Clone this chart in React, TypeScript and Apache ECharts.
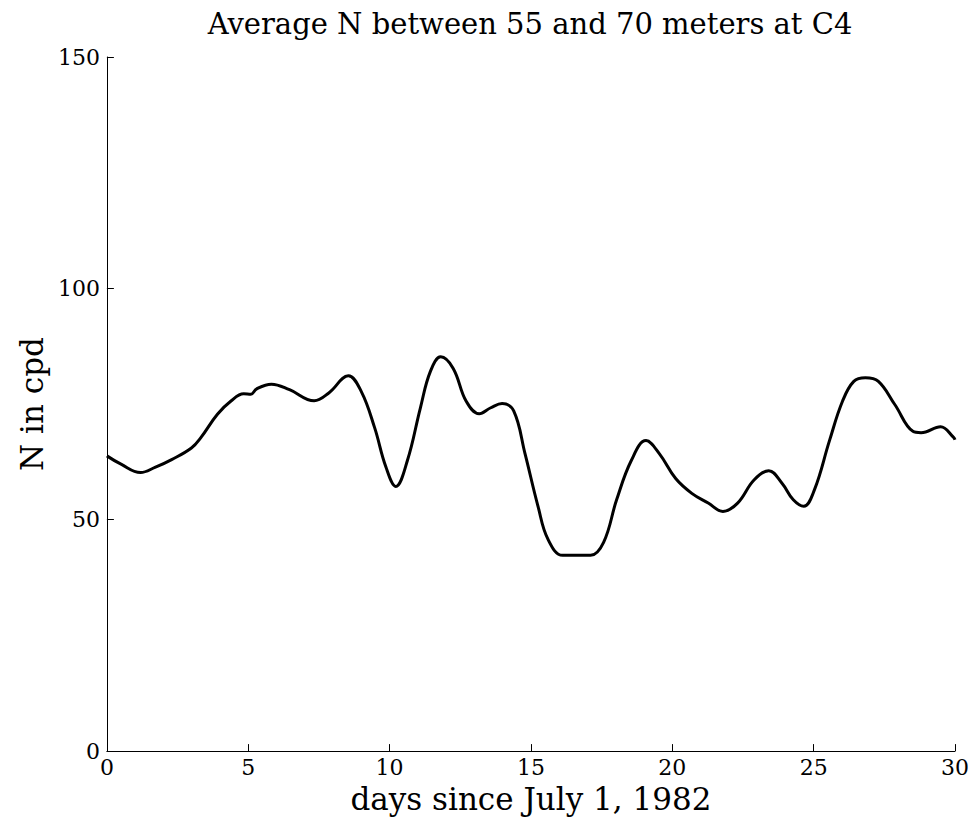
import React, { useEffect, useRef } from "react";
import * as echarts from "echarts";

const days = [0, 0.5, 1.19, 1.7, 2.29, 2.99, 3.33, 3.91, 4.38, 4.84, 5.09, 5.3, 5.82, 6.46, 7.33, 7.85, 8.54, 9.0, 9.47, 9.87, 10.22, 10.63, 11.09, 11.44, 11.81, 12.25, 12.71, 13.17, 13.58, 13.98, 14.39, 14.79, 15.25, 15.6, 16.12, 16.6, 17.11, 17.57, 18.03, 18.55, 19.07, 19.54, 20.12, 20.69, 21.27, 21.79, 22.31, 22.89, 23.41, 23.88, 24.28, 24.65, 25.03, 25.56, 26.02, 26.42, 26.83, 27.29, 27.87, 28.51, 28.8, 29.49, 29.95, 30];
const nValues = [63.8, 62.0, 60.2, 61.3, 63.0, 65.5, 67.8, 72.8, 75.6, 77.2, 77.1, 78.3, 79.3, 78.1, 75.7, 77.4, 81.1, 77.7, 69.9, 61.4, 57.2, 62.8, 74.2, 82.0, 85.2, 82.7, 75.6, 72.9, 74.2, 75.1, 73.5, 64.3, 52.9, 45.8, 42.3, 42.3, 42.3, 45.1, 54.3, 62.8, 67.1, 64.3, 58.9, 55.7, 53.6, 51.8, 53.6, 58.6, 60.6, 57.9, 54.3, 52.9, 56.5, 67.1, 75.6, 79.9, 80.7, 79.9, 74.9, 69.1, 68.8, 70.1, 67.8, 67.3];

const titleText = "Average N between 55 and 70 meters at C4";
const xName = "days since July 1, 1982";
const yName = "N in cpd";

export default function App() {
  const ref = useRef<HTMLDivElement>(null);
  useEffect(() => {
    if (!ref.current) return;
    const chart = echarts.init(ref.current, null, { renderer: "svg" });
    const font = "DejaVu Serif";
    chart.setOption({
      animation: false,
      backgroundColor: "#ffffff",
      title: {
        text: titleText,
        left: 517,
        textAlign: "center",
        top: -4,
        textStyle: { fontFamily: font, fontSize: 29, fontWeight: "normal", color: "#000" },
      },
      grid: { left: 86, right: 14, top: 49, bottom: 57, containLabel: false },
      xAxis: {
        type: "value",
        min: 0,
        max: 30,
        interval: 5,
        name: xName,
        nameLocation: "middle",
        nameGap: 30,
        nameTextStyle: { fontFamily: font, fontSize: 31, color: "#000" },
        axisLine: { show: true, lineStyle: { color: "#000", width: 1 } },
        axisTick: { show: true, inside: true, length: 7, lineStyle: { color: "#000" } },
        axisLabel: { fontFamily: font, fontSize: 22, color: "#000", margin: 5 },
        splitLine: { show: false },
      },
      yAxis: {
        type: "value",
        min: 0,
        max: 150,
        interval: 50,
        name: yName,
        nameLocation: "middle",
        nameGap: 54,
        nameRotate: 90,
        nameTextStyle: { fontFamily: font, fontSize: 31, color: "#000" },
        axisLine: { show: true, lineStyle: { color: "#000", width: 1 } },
        axisTick: { show: true, inside: true, length: 7, lineStyle: { color: "#000" } },
        axisLabel: { fontFamily: font, fontSize: 22, color: "#000", margin: 7 },
        splitLine: { show: false },
      },
      series: [
        {
          type: "line",
          data: days.map((d, i) => [d, nValues[i]]),
          smooth: 0.4,
          showSymbol: false,
          lineStyle: { color: "#000", width: 3 },
        },
      ],
    });
    return () => chart.dispose();
  }, []);
  return <div ref={ref} style={{ width: 964, height: 811 }} />;
}
